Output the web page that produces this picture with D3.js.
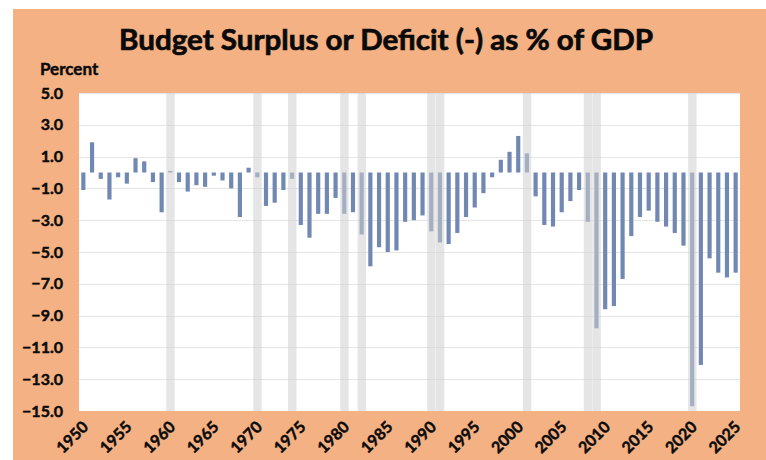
<!DOCTYPE html>
<html>
<head>
<meta charset="utf-8">
<script src="https://cdn.jsdelivr.net/npm/d3@7/dist/d3.min.js"></script>
<style>
  html, body { margin: 0; padding: 0; background: #ffffff; }
  svg { display: block; }
  text { font-family: Lato, "Open Sans", sans-serif; font-weight: 700; fill: #0a0a0a; }
</style>
</head>
<body>
<svg id="chart" width="766" height="460"></svg>
<script>
const years = d3.range(1950, 2026);
const values = [
  -1.1, 1.9, -0.4, -1.7, -0.3, -0.7, 0.9, 0.7, -0.6, -2.5,
  0.1, -0.6, -1.2, -0.8, -0.9, -0.2, -0.5, -1.0, -2.8, 0.3,
  -0.3, -2.1, -1.9, -1.1, -0.4, -3.3, -4.1, -2.6, -2.6, -1.6,
  -2.6, -2.5, -3.9, -5.9, -4.7, -5.0, -4.9, -3.1, -3.0, -2.7,
  -3.7, -4.4, -4.5, -3.8, -2.8, -2.2, -1.3, -0.3, 0.8, 1.3,
  2.3, 1.2, -1.5, -3.3, -3.4, -2.5, -1.8, -1.1, -3.1, -9.8,
  -8.6, -8.4, -6.7, -4.0, -2.8, -2.4, -3.1, -3.4, -3.8, -4.6,
  -14.7, -12.1, -5.4, -6.3, -6.6, -6.3
];
const recessionYears = [1960, 1970, 1974, 1980, 1982, 1990, 1991, 2001, 2008, 2009, 2020];
const yTicks = [5, 3, 1, -1, -3, -5, -7, -9, -11, -13, -15];
const xTickYears = [1950, 1955, 1960, 1965, 1970, 1975, 1980, 1985, 1990, 1995, 2000, 2005, 2010, 2015, 2020, 2025];
const titleText = "Budget Surplus or Deficit (-) as % of GDP";
const yAxisLabel = "Percent";

const data = years.map((y, i) => ({ year: y, value: values[i] }));

const svg = d3.select("#chart");
const W = 766, H = 460;
const plot = { left: 79, right: 740, top: 93, bottom: 411 };

// background panel
svg.append("rect").attr("x", 13).attr("y", 9).attr("width", W - 13).attr("height", H - 9)
  .attr("fill", "#F4B183");
svg.append("rect").attr("x", plot.left).attr("y", plot.top)
  .attr("width", plot.right - plot.left).attr("height", plot.bottom - plot.top)
  .attr("fill", "#ffffff");

const x = d3.scaleBand().domain(years).range([plot.left, plot.right]).paddingInner(0.52).paddingOuter(0.26);
const xFull = d3.scaleBand().domain(years).range([plot.left, plot.right]).padding(0);
const y = d3.scaleLinear().domain([-15, 5]).range([plot.bottom, plot.top]);

// gridlines
svg.append("g").selectAll("line").data(yTicks.filter(t => t !== -15)).join("line")
  .attr("x1", plot.left).attr("x2", plot.right)
  .attr("y1", d => Math.round(y(d)) + 0.5).attr("y2", d => Math.round(y(d)) + 0.5)
  .attr("stroke", "#e6e6e6").attr("stroke-width", 1);

// bars
svg.append("g").selectAll("rect").data(data).join("rect")
  .attr("x", d => x(d.year))
  .attr("width", x.bandwidth())
  .attr("y", d => y(Math.max(0, d.value)))
  .attr("height", d => Math.abs(y(d.value) - y(0)))
  .attr("fill", "#7088B2");

// recession shading
svg.append("g").selectAll("rect").data(recessionYears).join("rect")
  .attr("x", d => xFull(d) + 0.3)
  .attr("width", xFull.bandwidth() - 0.3)
  .attr("y", plot.top).attr("height", plot.bottom - plot.top)
  .attr("fill", "#cfcfcf").attr("opacity", 0.55);

const heavy = sel => sel.attr("stroke", "#0a0a0a").attr("stroke-width", 0.45).attr("paint-order", "stroke");

// y axis labels
const yAxis = d3.axisLeft(y).tickValues(yTicks).tickFormat(d3.format(".1f")).tickSize(0).tickPadding(16);
const gy = svg.append("g").attr("transform", `translate(${plot.left},0)`).call(yAxis);
gy.select(".domain").remove();
gy.selectAll("text").attr("font-size", 16).attr("fill", "#0a0a0a")
  .style("font-family", "Lato, sans-serif").style("font-weight", 700).call(heavy);

// x axis labels
const xAxis = d3.axisBottom(xFull).tickValues(xTickYears).tickSize(0).tickPadding(0);
const gx = svg.append("g").attr("transform", `translate(0,${plot.bottom})`).call(xAxis);
gx.select(".domain").remove();
gx.selectAll("text")
  .attr("font-size", 16).attr("fill", "#0a0a0a")
  .style("font-family", "Lato, sans-serif").style("font-weight", 700)
  .attr("text-anchor", "end")
  .attr("dy", "0")
  .attr("transform", "translate(6,17) rotate(-45)").call(heavy);

// title
svg.append("text").attr("x", 386).attr("y", 50).attr("text-anchor", "middle")
  .attr("font-size", 29).attr("textLength", 534).attr("lengthAdjust", "spacingAndGlyphs")
  .attr("stroke", "#0a0a0a").attr("stroke-width", 0.7)
  .text(titleText);

svg.append("text").attr("x", 40).attr("y", 75).attr("font-size", 17).call(heavy).text(yAxisLabel);
</script>
</body>
</html>
